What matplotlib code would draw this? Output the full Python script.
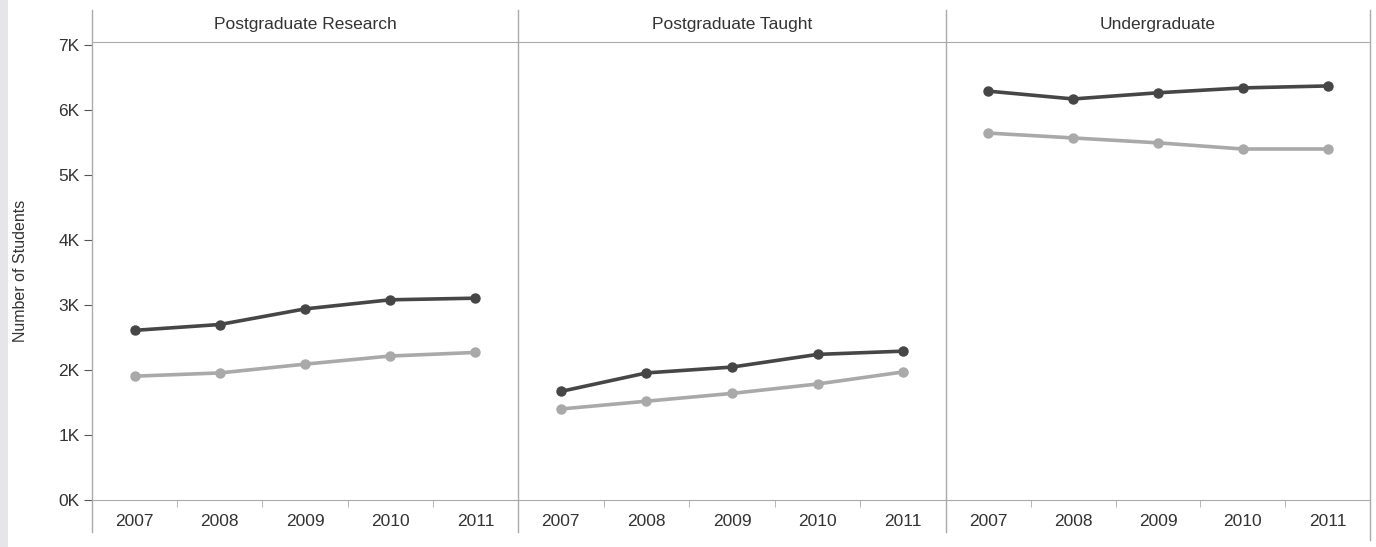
import matplotlib
matplotlib.use("Agg")
import matplotlib.pyplot as plt
from matplotlib.patches import Rectangle

plt.rcParams["font.family"] = ["Liberation Sans", "DejaVu Sans"]

# dados
anos = ["2007", "2008", "2009", "2010", "2011"]
paineis = ["Postgraduate Research", "Postgraduate Taught", "Undergraduate"]
serie_escura = [
    [2610, 2700, 2940, 3080, 3105],
    [1670, 1955, 2045, 2240, 2290],
    [6290, 6170, 6265, 6340, 6370],
]
serie_clara = [
    [1905, 1955, 2090, 2215, 2270],
    [1400, 1520, 1640, 1785, 1970],
    [5645, 5570, 5495, 5400, 5400],
]
yticks = [0, 1000, 2000, 3000, 4000, 5000, 6000, 7000]
ytick_labels = ["0K", "1K", "2K", "3K", "4K", "5K", "6K", "7K"]

W, H = 1376, 547
fig = plt.figure(figsize=(W / 100, H / 100), dpi=100)
fig.patches.append(Rectangle((0, 0), 8 / W, 1, transform=fig.transFigure,
                             facecolor="#e6e6e8", edgecolor="none"))

cor_linha = "#aaaaaa"
cor_texto = "#333333"
escura = "#464646"
clara = "#a9a9a9"

bordas = [92, 518, 946, 1370]
y_base, y_topo = 500, 42
ymax = (y_base - y_topo) / 65 * 1000

for i, nome in enumerate(paineis):
    x0, x1 = bordas[i], bordas[i + 1]
    ax = fig.add_axes([x0 / W, (H - y_base) / H, (x1 - x0) / W, (y_base - y_topo) / H])
    x = range(len(anos))
    ax.plot(x, serie_clara[i], color=clara, lw=2.6, marker="o", ms=6.5, zorder=3)
    ax.plot(x, serie_escura[i], color=escura, lw=2.6, marker="o", ms=6.5, zorder=4)
    ax.set_xlim(-0.5, len(anos) - 0.5)
    ax.set_ylim(0, ymax)
    for s in ax.spines.values():
        s.set_visible(False)
    ax.spines["top"].set_visible(True)
    ax.spines["bottom"].set_visible(True)
    ax.spines["top"].set_color(cor_linha)
    ax.spines["bottom"].set_color(cor_linha)
    # separadores verticais do painel
    ax.axvline(-0.5, ymin=-0.07, ymax=1.07, color=cor_linha, lw=1, clip_on=False)
    if i == len(paineis) - 1:
        ax.axvline(len(anos) - 0.5, ymin=-0.087, ymax=1.07, color=cor_linha, lw=1, clip_on=False)
    # rótulos dos anos e marcas entre faixas
    ax.set_xticks(list(x))
    ax.set_xticklabels(anos, fontsize=12.5, color=cor_texto)
    ax.tick_params(axis="x", length=0, pad=10)
    ax.set_xticks([k + 0.5 for k in range(len(anos) - 1)], minor=True)
    ax.tick_params(axis="x", which="minor", length=5, direction="out", color=cor_linha)
    ax.text(0.5, 1.0 + 17 / (y_base - y_topo), nome, transform=ax.transAxes,
            ha="center", va="center", fontsize=12.5, color=cor_texto)
    if i == 0:
        ax.set_yticks(yticks)
        ax.set_yticklabels(ytick_labels, fontsize=12.5, color=cor_texto)
        ax.tick_params(axis="y", length=6, color="#555555", pad=3)
        ax.set_ylabel("Number of Students", fontsize=11.5, color=cor_texto, labelpad=22)
    else:
        ax.set_yticks([])

fig.savefig("out.png", dpi=100)
